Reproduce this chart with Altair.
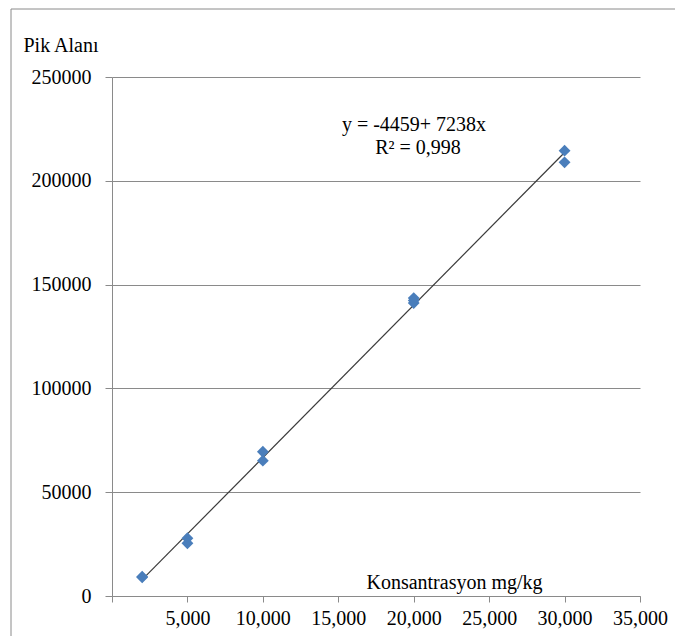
import altair as alt
import pandas as pd

# Data
konsantrasyon = [2000, 2000, 5000, 5000, 10000, 10000, 20000, 20000, 20000, 30000, 30000]
pik_alani = [9300, 9000, 27800, 25400, 69500, 65200, 143500, 141100, 142300, 214500, 208900]
x_ticks = [0, 5000, 10000, 15000, 20000, 25000, 30000, 35000]
y_ticks = [0, 50000, 100000, 150000, 200000, 250000]
equation_lines = ["y = -4459+ 7238x", "R² = 0,998"]

df = pd.DataFrame({"x": konsantrasyon, "y": pik_alani})

FONT = "Liberation Serif, Times New Roman, serif"
GRID = "#8a8a8a"

x_enc = alt.X(
    "x:Q",
    scale=alt.Scale(domain=[0, 35000], nice=False),
    axis=alt.Axis(
        values=x_ticks,
        grid=False,
        labelExpr="datum.value == 0 ? '' : format(datum.value, ',d')",
        labelOverlap=False,
        labelFlush=False,
        title="Konsantrasyon mg/kg",
        titleX=342,
        titleY=-8,
        titleAlign="center",
        titleBaseline="alphabetic",
        tickSize=6,
        labelPadding=6,
    ),
)
y_enc = alt.Y(
    "y:Q",
    scale=alt.Scale(domain=[0, 250000], nice=False),
    axis=alt.Axis(
        values=y_ticks,
        grid=True,
        format="d",
        labelOverlap=False,
        labelFlush=False,
        title="Pik Alanı",
        titleAngle=0,
        titleX=-89,
        titleY=-26,
        titleAlign="left",
        titleBaseline="alphabetic",
        tickSize=7,
        labelPadding=14,
    ),
)

base = alt.Chart(df)

points = base.mark_point(
    shape="diamond", filled=True, size=140, color="#4A7EBB", opacity=1
).encode(x=x_enc, y=y_enc)

trend = base.transform_regression("x", "y").mark_line(
    color="#3a3a3a", strokeWidth=1.2
).encode(x="x:Q", y="y:Q")

eq1 = alt.Chart(pd.DataFrame({"t": [equation_lines[0]]})).mark_text(
    font=FONT, fontSize=20, align="center", baseline="alphabetic", color="black"
).encode(text="t:N", x=alt.value(302), y=alt.value(54))

eq2 = alt.Chart(pd.DataFrame({"t": [equation_lines[1]]})).mark_text(
    font=FONT, fontSize=20, align="center", baseline="alphabetic", color="black"
).encode(text="t:N", x=alt.value(306), y=alt.value(77))

one = pd.DataFrame({"k": [0]})
border_top = alt.Chart(one).mark_rule(color=GRID, strokeWidth=1).encode(
    x=alt.value(-101), x2=alt.value(600), y=alt.value(-68)
)
border_left = alt.Chart(one).mark_rule(color=GRID, strokeWidth=1).encode(
    x=alt.value(-101), y=alt.value(-68), y2=alt.value(600)
)

chart = (
    alt.layer(border_top, border_left, trend, points, eq1, eq2)
    .properties(
        width=528,
        height=519,
        autosize=alt.AutoSizeParams(type="none"),
        padding={"left": 104, "top": 69, "right": 35, "bottom": 40},
    )
    .configure_view(stroke=None)
    .configure_axis(
        labelFont=FONT,
        labelFontSize=20,
        labelColor="black",
        titleFont=FONT,
        titleFontSize=20,
        titleFontWeight="normal",
        titleColor="black",
        domainColor=GRID,
        tickColor=GRID,
        gridColor=GRID,
        gridWidth=1,
        domainWidth=1,
        tickWidth=1,
    )
)

chart.save("out.html", embed_options={"renderer": "svg", "actions": False})
